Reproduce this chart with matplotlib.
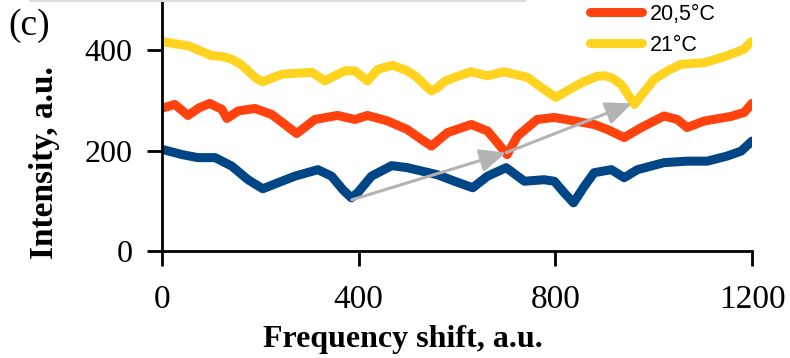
import matplotlib
matplotlib.use("Agg")
import matplotlib.pyplot as plt
from matplotlib.lines import Line2D

# 20°C (blue)
x_20 = [2, 41, 73, 108, 142, 175, 205, 236, 270, 317, 345, 368, 385, 398, 426, 467, 499,
        560, 595, 632, 662, 700, 737, 777, 798, 818, 837, 859, 879, 914, 940, 967, 1021,
        1068, 1109, 1149, 1178, 1200]
y_20 = [202, 192, 186, 186, 169, 142, 124, 136, 149, 162, 149, 122, 106, 116, 149, 170, 166,
        152, 139, 126, 149, 166, 139, 142, 139, 116, 96, 129, 156, 162, 146, 162, 176,
        179, 179, 189, 199, 219]

# 20,5°C (orange)
x_205 = [2, 26, 53, 75, 97, 122, 132, 155, 189, 223, 250, 274, 311, 357, 392, 418, 459, 499,
         528, 548, 581, 629, 662, 682, 702, 723, 763, 798, 839, 879, 906, 940, 975, 1021,
         1048, 1068, 1103, 1157, 1184, 1200]
y_205 = [285, 292, 270, 285, 294, 282, 264, 279, 284, 272, 252, 234, 262, 270, 262, 270, 259, 242,
         222, 209, 236, 252, 239, 216, 192, 229, 262, 266, 259, 252, 242, 226, 246, 269,
         262, 246, 259, 268, 276, 294]

# 21°C (yellow)
x_21 = [2, 25, 53, 75, 101, 120, 142, 160, 175, 190, 205, 225, 244, 270, 290, 305, 331, 372,
        392, 418, 439, 469, 499, 520, 535, 548, 560, 575, 595, 629, 662, 696, 743, 777, 801,
        824, 853, 870, 885, 900, 915, 934, 961, 975, 1001, 1030, 1056, 1103, 1149, 1184, 1198]
y_21 = [417, 413, 409, 400, 389, 388, 382, 372, 359, 345, 337, 345, 352, 354, 355, 356, 339, 359,
        359, 339, 362, 370, 359, 345, 330, 319, 325, 338, 346, 357, 349, 357, 346, 322, 306,
        319, 335, 342, 348, 349, 345, 332, 292, 310, 342, 360, 372, 375, 389, 402, 417]

# grey arrows: (start, end)
arrows = [((386, 102), (700, 196)), ((700, 196), (956, 294))]

fig = plt.figure(figsize=(7.9, 3.58), dpi=100)
ax = fig.add_axes([162 / 790, 1 - 251 / 358, 590 / 790, 251 / 358])

ax.plot(x_20, y_20, color="#004586", lw=6.5, solid_capstyle="round", label="20°C")
l1, = ax.plot(x_205, y_205, color="#ff420e", lw=6.5, solid_capstyle="round", label="20,5°C")
l2, = ax.plot(x_21, y_21, color="#ffd320", lw=6.5, solid_capstyle="round", label="21°C")

for start, end in arrows:
    ax.annotate("", xy=end, xytext=start,
                arrowprops=dict(arrowstyle="-|>,head_length=0.8,head_width=0.35",
                                color="#b3b3b3", lw=2.2, mutation_scale=20,
                                shrinkA=0, shrinkB=0), zorder=5)

ax.set_xlim(0, 1200)
ax.set_ylim(0, 500)
ax.set_xticks([0, 400, 800, 1200])
ax.set_yticks([0, 200, 400])
for s in ["top", "right"]:
    ax.spines[s].set_visible(False)
for s in ["left", "bottom"]:
    ax.spines[s].set_linewidth(2)
ax.tick_params(direction="out", length=11, width=2)
ax.tick_params(axis="x", pad=13)
ax.tick_params(axis="y", pad=10)
for lab in ax.get_xticklabels():
    lab.set_family("Liberation Serif")
    lab.set_fontsize(24)
for lab in ax.get_yticklabels():
    lab.set_family("Liberation Serif")
    lab.set_fontsize(23)

fig.text(403 / 790, 1 - 339 / 358, "Frequency shift, a.u.", family="Liberation Serif",
         fontweight="bold", fontsize=23, ha="center", va="center")
fig.text(45 / 790, 1 - 163 / 358, "Intensity, a.u.", family="Liberation Serif",
         fontweight="bold", fontsize=24, ha="center", va="center", rotation=90)
fig.text(8 / 790, 1 - 26 / 358, "(c)", family="Liberation Serif", fontsize=27,
         ha="left", va="center")

ax.legend(handles=[l1, l2], loc="upper left", bbox_to_anchor=(590 / 790, 1 - 4 / 358),
          bbox_transform=fig.transFigure, frameon=False, borderpad=0, borderaxespad=0,
          handlelength=2.4, handletextpad=0.4, labelspacing=0.45,
          prop={"family": "Liberation Sans", "size": 15.5})

# faint line left over from the panel above
fig.add_artist(Line2D([30 / 790, 525 / 790], [0.998, 0.998], color="#dcdcdc", lw=1.5,
                      transform=fig.transFigure))

fig.savefig("out.png", dpi=100)
